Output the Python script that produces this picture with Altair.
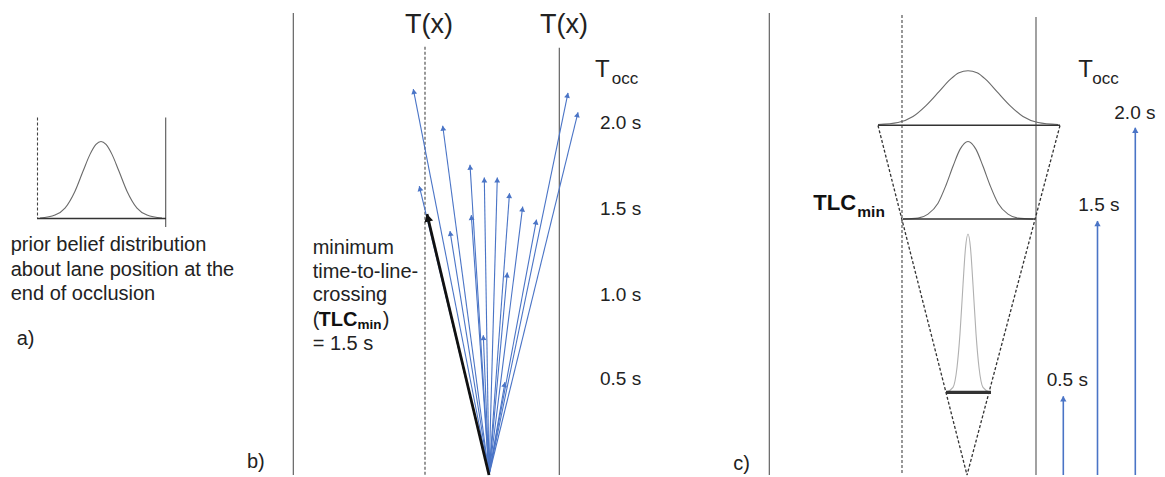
import altair as alt
import pandas as pd
import numpy as np

# ---------------- canvas (image pixel coordinates) ----------------
W, H = 1149, 469
X0, Y0 = 8, 8
FONT = "Liberation Sans"
BLUE = "#4a74c6"

# ---------------- data ----------------
# solid lane boundaries
solid_x = [165.7, 293.3, 559.3, 769.3, 1036]
solid_top = [118, 13, 48, 13, 17]
solid_bot = [228, 477, 477, 477, 477]
# dashed lane boundaries
dashed_x = [37.5, 425, 902]
dashed_top = [118, 47, 15]
dashed_bot = [219, 477, 477]
# distribution baselines
base_x1 = [37, 878, 903, 946]
base_x2 = [166, 1060, 1035, 991]
base_y = [219.3, 125.7, 220, 394]
base_w = [1.5, 1.5, 1.5, 3.2]
# dashed cone (panel c)
cone_x1 = [878, 1060]
cone_y1 = [126, 126]
cone_x2 = [967, 967]
cone_y2 = [477, 477]

# prior belief distributions (curve points)
curve_a_x = [40, 55, 65, 75, 83, 90, 96, 101, 106, 112, 119, 127, 137, 147, 162]
curve_a_y = [219, 216, 209, 192, 172, 155, 145, 142, 145, 155, 172, 192, 209, 216, 219]
curve_c1_x = [878, 898, 913, 926, 939, 950, 959, 968, 977, 986, 997, 1010, 1023, 1038, 1058]
curve_c1_y = [125, 123, 117, 106, 92, 80, 73, 71, 73, 80, 92, 106, 117, 123, 125]
curve_c2_x = [903, 918, 928, 938, 946, 953, 960, 968, 976, 983, 990, 998, 1008, 1018, 1033]
curve_c2_y = [220, 219, 215, 204, 186, 167, 150, 142, 150, 167, 186, 204, 215, 219, 220]
curve_c3_x = [946, 953, 957, 960, 963, 965.5, 968, 970.5, 973, 976, 979, 983, 990]
curve_c3_y = [394, 389, 369, 335, 286, 249, 235, 249, 286, 335, 369, 389, 394]

# panel b: fan of trajectories from one origin
fan_origin_x = 489
fan_origin_y = 477
fan_tip_x = [413.3, 419.3, 442.7, 450, 470, 471.3, 484.3, 483.3, 497.3, 509.5,
             507.3, 505, 522.7, 536.5, 568, 578]
fan_tip_y = [89.5, 187, 126.3, 232, 165.5, 216, 178.3, 336.7, 178.3, 194,
             273.7, 383.8, 207.5, 220.5, 93.3, 112.8]
tlc_tip_x = 427
tlc_tip_y = 215

# panel c: occlusion time arrows
occ_x = [1063.3, 1097.5, 1135.3]
occ_tip_y = [398, 222, 128.3]
occ_bot = [477, 477, 477]

# ---------------- texts ----------------
txt_plain = [
    ("prior belief distribution", 10.7, 252.5, 20),
    ("about lane position at the", 10.7, 277, 20),
    ("end of occlusion", 10.7, 301.5, 20),
    ("a)", 16.7, 346.5, 20),
    ("b)", 247, 470, 20),
    ("T", 595, 77.7, 24), ("occ", 611.7, 84.5, 17),
    ("2.0 s", 600, 129.5, 19), ("1.5 s", 600, 215.5, 19),
    ("1.0 s", 600, 302, 19), ("0.5 s", 600, 387, 19),
    ("minimum", 312.7, 255, 20), ("time-to-line-", 312.7, 279.5, 20),
    ("crossing", 312.7, 302.5, 20), ("(", 312.7, 327, 20),
    (")", 382.7, 327, 20), ("= 1.5 s", 312.7, 351, 20),
    ("c)", 733.3, 472, 20),
    ("T", 1078.3, 77.7, 24), ("occ", 1092.3, 84.3, 17),
    ("2.0 s", 1114.3, 119.5, 19), ("1.5 s", 1078.3, 211.7, 19),
    ("0.5 s", 1046.7, 388, 19),
]
txt_bold = [
    ("TLC", 318.5, 327, 20), ("min", 357.5, 330.5, 13.5),
    ("TLC", 813.3, 211, 22), ("min", 857.3, 218.3, 15.5),
]
txt_center = [("T(x)", 429, 33, 27), ("T(x)", 564, 33, 27)]

# ---------------- build tables ----------------
xs = alt.Scale(domain=[X0, X0 + W], nice=False, zero=False)
ys = alt.Scale(domain=[Y0, Y0 + H], nice=False, zero=False, reverse=True)


def X(f):
    return alt.X(f, type="quantitative", scale=xs, axis=None)


def Y(f):
    return alt.Y(f, type="quantitative", scale=ys, axis=None)


solid_df = pd.DataFrame({"x": solid_x, "y": solid_top, "y2": solid_bot})
dashed_df = pd.DataFrame({"x": dashed_x, "y": dashed_top, "y2": dashed_bot})
base_df = pd.DataFrame({"x": base_x1, "x2": base_x2, "y": base_y, "w": base_w})
cone_df = pd.DataFrame({"x": cone_x1, "y": cone_y1, "x2": cone_x2, "y2": cone_y2})

curves = []
for name, cx, cy in [("a", curve_a_x, curve_a_y), ("c1", curve_c1_x, curve_c1_y),
                     ("c2", curve_c2_x, curve_c2_y), ("c3", curve_c3_x, curve_c3_y)]:
    for i, (a, b) in enumerate(zip(cx, cy)):
        curves.append({"curve": name, "i": i, "x": a, "y": b,
                       "col": "#b0b0b0" if name == "c3" else "#6a6a6a"})
curve_df = pd.DataFrame(curves)


def heads(x0, y0, x1, y1, back):
    x0, y0, x1, y1 = map(np.asarray, (x0, y0, x1, y1))
    dx, dy = x1 - x0, y1 - y0
    L = np.hypot(dx, dy)
    ang = np.degrees(np.arctan2(dx, -dy)) % 360
    return pd.DataFrame({"x": x1 - dx / L * back, "y": y1 - dy / L * back, "ang": ang})


n = len(fan_tip_x)
fan_df = pd.DataFrame({"x": [fan_origin_x] * n, "y": [fan_origin_y] * n,
                       "x2": fan_tip_x, "y2": fan_tip_y})
fan_heads = heads([fan_origin_x] * n, [fan_origin_y] * n, fan_tip_x, fan_tip_y, 2.4)
tlc_df = pd.DataFrame({"x": [fan_origin_x], "y": [fan_origin_y],
                       "x2": [tlc_tip_x], "y2": [tlc_tip_y]})
tlc_head = heads([fan_origin_x], [fan_origin_y], [tlc_tip_x], [tlc_tip_y], 3.8)
occ_df = pd.DataFrame({"x": occ_x, "y": occ_bot, "x2": occ_x, "y2": occ_tip_y})
occ_heads = heads(occ_x, occ_bot, occ_x, occ_tip_y, 2.4)

tp = pd.DataFrame(txt_plain, columns=["t", "x", "y", "s"])
tb = pd.DataFrame(txt_bold, columns=["t", "x", "y", "s"])
tc = pd.DataFrame(txt_center, columns=["t", "x", "y", "s"])

# ---------------- layers ----------------
solid = alt.Chart(solid_df).mark_rule(color="#555555", strokeWidth=1.1).encode(
    x=X("x"), y=Y("y"), y2="y2")
dashed = alt.Chart(dashed_df).mark_rule(color="#444444", strokeWidth=1.1,
                                        strokeDash=[3, 2]).encode(
    x=X("x"), y=Y("y"), y2="y2")
cone = alt.Chart(cone_df).mark_rule(color="#333333", strokeWidth=1.3,
                                    strokeDash=[3, 2]).encode(
    x=X("x"), y=Y("y"), x2="x2", y2="y2")
base = alt.Chart(base_df).mark_rule(color="#333333").encode(
    x=X("x"), x2="x2", y=Y("y"),
    strokeWidth=alt.StrokeWidth("w:Q", scale=None))
curve = alt.Chart(curve_df).mark_line(interpolate="monotone", strokeWidth=1.1).encode(
    x=X("x"), y=Y("y"), detail="curve:N", order="i:Q",
    color=alt.Color("col:N", scale=None))

fan = alt.Chart(fan_df).mark_rule(color=BLUE, strokeWidth=1.1).encode(
    x=X("x"), y=Y("y"), x2="x2", y2="y2")
fan_h = alt.Chart(fan_heads).mark_point(shape="triangle-up", filled=True, opacity=1,
                                        color=BLUE, size=34).encode(
    x=X("x"), y=Y("y"), angle=alt.Angle("ang:Q", scale=None))
tlc = alt.Chart(tlc_df).mark_rule(color="#111111", strokeWidth=2.8).encode(
    x=X("x"), y=Y("y"), x2="x2", y2="y2")
tlc_h = alt.Chart(tlc_head).mark_point(shape="triangle-up", filled=True, opacity=1,
                                       color="#111111", size=80).encode(
    x=X("x"), y=Y("y"), angle=alt.Angle("ang:Q", scale=None))
occ = alt.Chart(occ_df).mark_rule(color=BLUE, strokeWidth=1.6).encode(
    x=X("x"), y=Y("y"), x2="x2", y2="y2")
occ_h = alt.Chart(occ_heads).mark_point(shape="triangle-up", filled=True, opacity=1,
                                        color=BLUE, size=40).encode(
    x=X("x"), y=Y("y"), angle=alt.Angle("ang:Q", scale=None))

t_plain = alt.Chart(tp).mark_text(align="left", baseline="alphabetic", font=FONT,
                                  color="#222222").encode(
    x=X("x"), y=Y("y"), text="t:N", size=alt.Size("s:Q", scale=None))
t_bold = alt.Chart(tb).mark_text(align="left", baseline="alphabetic", font=FONT,
                                 fontWeight="bold", color="#111111").encode(
    x=X("x"), y=Y("y"), text="t:N", size=alt.Size("s:Q", scale=None))
t_center = alt.Chart(tc).mark_text(align="center", baseline="alphabetic", font=FONT,
                                   color="#222222").encode(
    x=X("x"), y=Y("y"), text="t:N", size=alt.Size("s:Q", scale=None))

chart = alt.layer(
    solid, dashed, cone, curve, base, fan, fan_h, tlc, tlc_h, occ, occ_h,
    t_plain, t_bold, t_center
).properties(
    width=W, height=H, padding=0,
    autosize=alt.AutoSizeParams(type="fit", contains="padding"),
    background="white",
).configure_view(stroke=None)

chart.save("out.html", embed_options={"renderer": "svg", "actions": False})
